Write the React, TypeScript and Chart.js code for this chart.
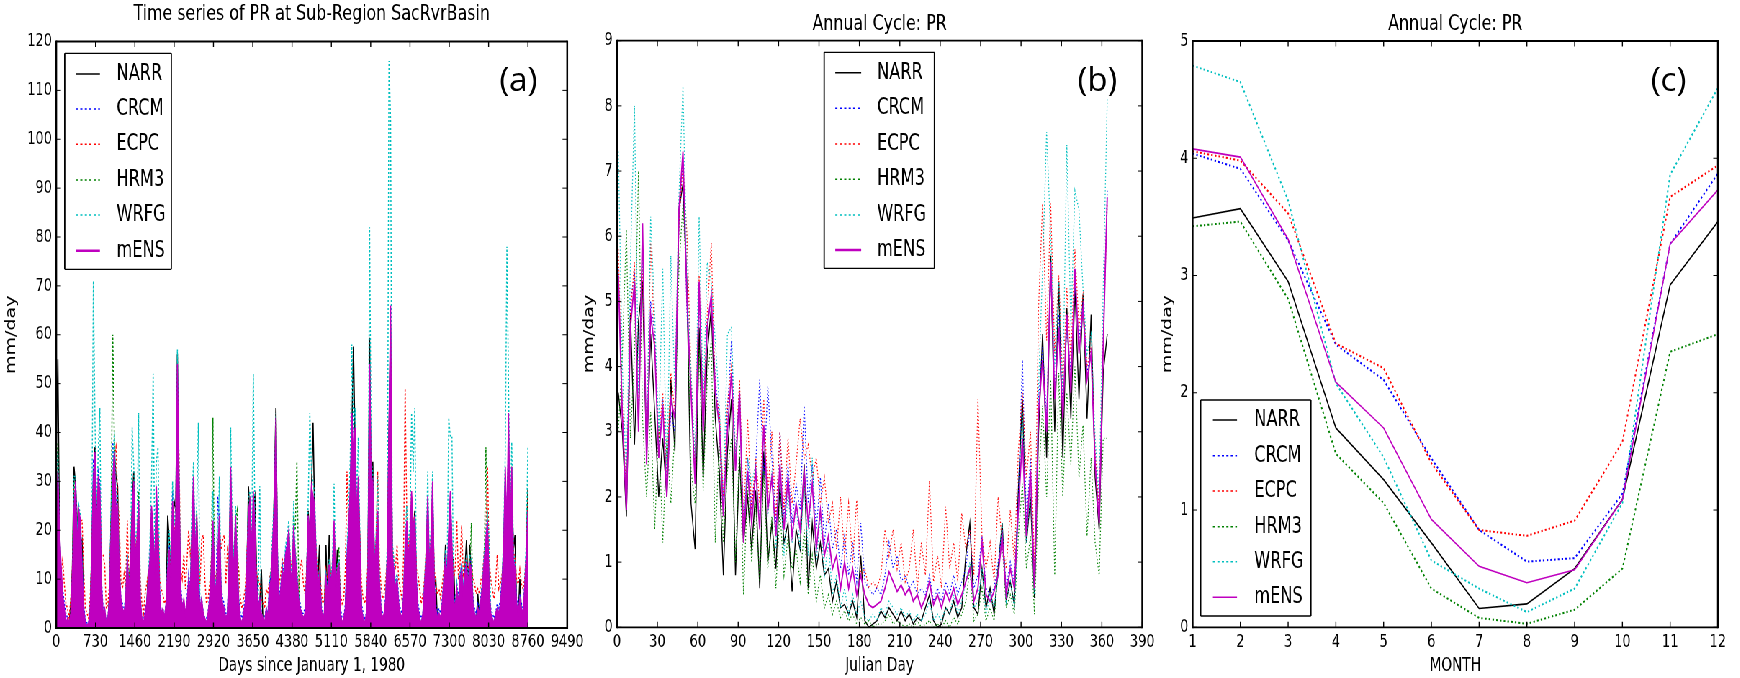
import React, { useEffect, useRef } from 'react';
import { Chart, registerables } from 'chart.js';

Chart.register(...registerables);

// The reference figure is horizontally compressed; we draw it wide and squeeze it.
const S = 0.72;
const FIG_W = 2417;
const FIG_H = 678;
const FAMILY = "'DejaVu Sans', 'Liberation Sans', sans-serif";
Chart.defaults.font.family = FAMILY;
Chart.defaults.color = '#000';

const seriesNames = ['NARR', 'CRCM', 'ECPC', 'HRM3', 'WRFG', 'mENS'];
const seriesColors = ['#000000', '#0000ff', '#ff0000', '#008000', '#00bfbf', '#bf00bf'];
const seriesDotted = [false, true, true, true, true, false];
const drawOrder = [5, 4, 3, 2, 1, 0];

// ---------------- Panel (a): daily time series, sampled every 30 days ----------------
const daysA = Array.from({ length: 293 }, (_, i) => i * 30);
const xTicksA = [0, 730, 1460, 2190, 2920, 3650, 4380, 5110, 5840, 6570, 7300, 8030, 8760, 9490];
const yTicksA = [0, 10, 20, 30, 40, 50, 60, 70, 80, 90, 100, 110, 120];

const narrA = [
  36, 55, 20, 10, 6, 3, 1, 1, 0.5, 5,
  12, 33, 29, 22, 18, 17, 18, 3, 1, 0.2,
  0.5, 2, 16, 30, 37, 24, 26, 22, 7, 2,
  3, 0.5, 1, 7, 22, 28, 36, 31, 29, 10,
  5, 3, 2, 4, 12, 9, 14, 25, 32, 11,
  16, 22, 2, 1, 1, 2, 4, 12, 8, 19,
  14, 9, 26, 18, 5, 2, 3, 1, 3, 23,
  18, 8, 22, 26, 24, 56, 27, 6, 2, 3,
  2, 4, 9, 6, 18, 28, 10, 22, 8, 2,
  4, 2, 1, 1, 2, 5, 10, 20, 8, 5,
  12, 20, 6, 3, 2, 1, 2, 10, 31, 14,
  10, 18, 11, 4, 1, 0.5, 2, 4, 10, 29,
  22, 13, 25, 27, 12, 3, 5, 12, 1, 0.5,
  3, 2, 6, 11, 15, 28, 45, 12, 4, 7,
  11, 9, 13, 16, 20, 10, 8, 19, 13, 9,
  5, 3, 2, 1, 2, 9, 24, 17, 28, 42,
  23, 12, 10, 17, 3, 1, 2, 17, 6, 19,
  8, 11, 18, 7, 16, 10, 2, 1, 1, 3,
  12, 19, 27, 40, 57.6, 38, 20, 29, 17, 3,
  1, 0.5, 2, 11, 59.4, 26, 34, 11, 15, 22,
  8, 3, 1, 2, 5, 14, 40, 62, 14, 10,
  7, 9, 4, 2, 1, 5, 15, 20, 12, 16,
  25, 19, 24, 8, 3, 1, 1, 2, 7, 12,
  25, 10, 16, 27, 8, 10, 1, 2, 1, 4,
  9, 17, 9, 18, 26, 14, 14, 3, 7, 4,
  9, 10, 6, 12, 18, 8, 17, 11, 4, 2,
  1, 7, 2, 5, 10, 12, 16, 20, 7, 2,
  1, 0.5, 2, 3, 2, 4, 8, 14, 30, 18,
  38, 16, 30, 16, 19, 4, 2, 10, 3, 2,
  7, 14, 28.5,
];
const crcmA = [
  25, 30, 14, 9, 8, 5, 3, 2, 1, 2,
  10, 26, 28, 17, 23, 20, 14, 5, 1.5, 1,
  1, 4, 14, 34, 33, 20, 32, 30, 10, 4,
  3, 2, 2, 6, 24, 38, 33, 26, 22, 13,
  6, 5, 3, 7, 15, 7, 13, 22, 28, 16,
  17, 24, 5, 2, 1, 4, 5, 9, 15, 24,
  18, 12, 27, 20, 8, 3, 4, 2, 5, 13,
  17, 10, 28, 17, 20, 50, 28, 9, 5, 5,
  3, 6, 11, 8, 22, 30, 15, 21, 12, 5,
  6, 3, 2, 2, 3, 7, 13, 21, 11, 8,
  27, 22, 9, 6, 5, 3, 3, 13, 30, 17,
  13, 21, 13, 6, 3, 2, 4, 6, 13, 23,
  24, 16, 26, 19, 10, 5, 6, 3, 2, 2,
  4, 3, 9, 11, 16, 24, 40, 15, 6, 9,
  13, 11, 16, 18, 19, 13, 10, 20, 15, 11,
  7, 5, 3, 3, 4, 11, 22, 20, 27, 25,
  24, 14, 9, 12, 5, 2, 3, 11, 8, 12,
  10, 13, 21, 9, 11, 12, 4, 2, 2, 5,
  15, 21, 26, 42, 33, 38, 21, 29, 15, 5,
  3, 2, 3, 13, 50, 27, 28, 13, 16, 23,
  11, 5, 3, 3, 7, 16, 38, 60, 16, 13,
  9, 11, 6, 4, 3, 7, 17, 21, 15, 17,
  26, 21, 22, 10, 5, 3, 2, 3, 9, 15,
  26, 13, 17, 28, 10, 5, 3, 4, 3, 6,
  11, 15, 11, 19, 27, 17, 7, 5, 9, 6,
  11, 13, 8, 12, 14, 10, 14, 13, 6, 4,
  3, 5, 4, 7, 10, 15, 17, 21, 9, 4,
  3, 2, 3, 5, 4, 6, 10, 17, 31, 19,
  40, 19, 31, 15, 13, 6, 4, 7, 5, 4,
  9, 16, 26,
];
const ecpcA = [
  24, 28, 15, 11, 14, 9, 5, 4, 2, 6,
  12, 28, 27, 15, 21, 22, 22, 12, 4, 3,
  2, 6, 15, 29, 31, 19, 28, 27, 15, 15,
  13, 4, 5, 9, 21, 30, 35, 37, 27, 22,
  10, 8, 11, 8, 22, 10, 12, 23, 26, 15,
  19, 25, 10, 5, 3, 7, 9, 11, 13, 22,
  17, 14, 25, 21, 10, 8, 7, 5, 6, 12,
  15, 11, 25, 19, 26, 39, 36, 12, 10, 15,
  8, 14, 20, 15, 18, 26, 16, 20, 14, 9,
  18, 19, 10, 5, 6, 9, 14, 19, 12, 10,
  14, 21, 16, 18, 19, 9, 16, 14, 29, 19,
  14, 20, 15, 12, 6, 4, 6, 8, 15, 22,
  23, 18, 24, 18, 11, 10, 9, 6, 5, 4,
  8, 7, 10, 12, 18, 23, 44, 14, 9, 11,
  14, 13, 14, 15, 18, 14, 12, 18, 16, 12,
  8, 12, 14, 9, 7, 12, 21, 18, 26, 24,
  22, 15, 10, 12, 8, 5, 6, 12, 10, 13,
  11, 12, 20, 10, 12, 13, 7, 5, 6, 12,
  32, 20, 27, 38, 32, 36, 23, 28, 18, 9,
  6, 5, 7, 14, 48, 29, 27, 14, 18, 32,
  14, 9, 6, 7, 10, 15, 39, 55, 17, 14,
  12, 17, 10, 8, 6, 14, 49, 23, 16, 19,
  27, 22, 21, 12, 11, 8, 5, 7, 10, 16,
  24, 14, 19, 26, 12, 9, 7, 8, 6, 9,
  12, 14, 12, 18, 25, 16, 10, 12, 22, 10,
  13, 21, 11, 13, 14, 12, 14, 13, 10, 9,
  7, 8, 7, 10, 11, 16, 19, 33, 14, 10,
  8, 6, 9, 15, 8, 9, 11, 16, 29, 21,
  36, 20, 29, 16, 14, 10, 9, 12, 9, 8,
  10, 15, 27,
];
const hrm3A = [
  30, 38, 15, 8, 5, 2, 1, 1, 0.5, 3,
  10, 30, 26, 19, 20, 18, 10, 2, 0.5, 0.2,
  0.5, 2, 13, 28, 32, 17, 27, 25, 6, 2,
  3, 0.5, 1, 5, 24, 60, 38, 22, 23, 14,
  4, 3, 2, 5, 13, 6, 11, 21, 27, 12,
  15, 28, 4, 1, 0.5, 2, 4, 8, 12, 23,
  16, 9, 24, 15, 5, 2, 2, 1, 3, 11,
  14, 8, 23, 16, 21, 48, 26, 6, 3, 4,
  2, 4, 9, 5, 21, 29, 12, 24, 8, 3,
  4, 2, 1, 0.5, 2, 5, 12, 43, 9, 6,
  13, 19, 6, 4, 3, 1, 2, 11, 28, 15,
  15, 22, 24, 4, 1, 0.5, 2, 4, 11, 21,
  25, 14, 23, 17, 8, 3, 5, 2, 1, 0.5,
  3, 1, 7, 9, 14, 22, 38, 11, 4, 7,
  11, 9, 14, 16, 19, 11, 8, 22, 20, 34,
  12, 3, 2, 1, 2, 9, 20, 16, 25, 24,
  21, 12, 7, 10, 3, 1, 2, 9, 6, 11,
  8, 11, 19, 7, 13, 16.5, 2, 0.5, 1, 3,
  13, 18, 25, 36, 31, 35, 19, 27, 13, 3,
  1, 0.5, 2, 11, 46, 24, 26, 10, 14, 21,
  8, 3, 1, 2, 5, 14, 36, 52, 13, 11,
  7, 8, 4, 2, 1, 5, 14, 19, 13, 15,
  24, 18, 20, 8, 3, 1, 0.5, 2, 7, 13,
  23, 11, 15, 25, 8, 3, 1, 2, 1, 4,
  9, 13, 9, 17, 24, 14, 5, 3, 7, 4,
  9, 11, 6, 10, 12, 8, 12, 21.5, 4, 2,
  1, 3, 2, 5, 8, 13, 37, 20, 7, 2,
  1, 0.5, 2, 3, 2, 4, 8, 15, 28, 17,
  35, 16, 33, 13, 11, 4, 2, 5, 3, 2,
  7, 14, 30,
];
const wrfgA = [
  30, 36, 20, 12, 6, 3, 1, 1, 0.5, 3,
  11, 31, 31, 20, 25, 23, 13, 4, 1, 0.5,
  1, 3, 18, 71, 42, 24, 36, 45, 8, 3,
  4, 1, 2, 6, 25, 35, 40, 28, 27, 13,
  5, 4, 3, 7, 15, 9, 14, 41, 33, 18,
  20, 44, 7, 2, 1, 3, 5, 10, 18, 30,
  52, 14, 34, 37, 8, 3, 4, 2, 5, 14,
  20, 10, 30, 21, 25, 57, 34, 8, 4, 5,
  3, 5, 10, 8, 26, 34, 18, 25, 42, 4,
  6, 3, 2, 1, 3, 6, 13, 28, 12, 7,
  16, 31, 9, 5, 4, 2, 3, 14, 41, 20,
  14, 25, 15, 5, 2, 1, 3, 5, 13, 27,
  28, 17, 52, 22, 10, 4, 29, 3, 2, 1,
  4, 2, 9, 12, 20, 27, 44, 15, 5, 8,
  13, 11, 17, 19, 22, 14, 10, 26, 16, 12,
  7, 4, 3, 2, 3, 11, 26, 44, 32, 30,
  27, 15, 9, 12, 4, 2, 3, 11, 8, 14,
  10, 14, 29.5, 9, 13, 14, 3, 1, 2, 4,
  16, 24, 34, 58, 40, 45, 26, 39, 18, 4,
  2, 1, 3, 14, 82, 34, 32, 14, 19, 31,
  11, 4, 2, 3, 6, 18, 116, 104, 18, 14,
  9, 11, 5, 3, 2, 6, 18, 25, 17, 21,
  44, 32, 45, 10, 4, 2, 1, 3, 9, 16,
  32, 14, 20, 32, 10, 4, 2, 3, 2, 5,
  11, 16, 12, 43, 39, 39, 7, 4, 9, 5,
  11, 13, 8, 12, 15, 10, 15, 14, 5, 3,
  2, 4, 3, 6, 10, 16, 20, 24, 18, 3,
  2, 1, 3, 4, 3, 5, 10, 19, 36, 78,
  50, 21, 38, 16, 13, 5, 3, 6, 4, 3,
  9, 18, 37,
];
const mensA = [
  22, 32, 20, 13, 7, 4, 1, 2, 1, 3,
  11, 24, 30, 16, 24, 22, 12, 4, 1, 0.5,
  1, 3, 15, 30, 36, 19, 31, 28, 9, 3,
  4, 1, 2, 6, 20, 30, 36, 24, 25, 12,
  6, 4, 3, 6, 14, 8, 12, 24, 30, 14,
  18, 26, 6, 2, 1, 3, 5, 10, 14, 25,
  20, 11, 29, 19, 7, 3, 4, 2, 5, 12,
  16, 9, 26, 18, 22, 54, 30, 8, 4, 6,
  3, 5, 10, 7, 20, 31, 14, 23, 10, 4,
  6, 3, 2, 1, 3, 6, 12, 22, 10, 7,
  15, 23, 8, 5, 4, 2, 3, 12, 33, 16,
  12, 23, 14, 5, 2, 1, 3, 5, 12, 24,
  26, 15, 28, 20, 9, 4, 6, 3, 2, 1,
  4, 2, 8, 10, 17, 25, 43, 13, 5, 8,
  12, 10, 15, 17, 20, 12, 9, 21, 14, 10,
  6, 4, 3, 2, 3, 10, 23, 19, 29, 27,
  25, 13, 8, 11, 4, 2, 3, 10, 7, 13,
  9, 12, 22, 8, 12, 13, 3, 1, 2, 4,
  14, 20, 28, 44, 35, 41, 22, 31, 16, 4,
  2, 1, 3, 12, 54, 28, 30, 12, 17, 24,
  10, 4, 2, 3, 6, 15, 41, 66, 15, 12,
  8, 10, 5, 3, 2, 6, 16, 22, 14, 18,
  28, 20, 23, 9, 4, 2, 1, 3, 8, 14,
  27, 12, 18, 30, 9, 4, 2, 3, 2, 5,
  10, 14, 10, 20, 28, 16, 6, 4, 8, 5,
  10, 12, 7, 11, 13, 9, 13, 12, 5, 3,
  2, 4, 3, 6, 9, 14, 18, 22, 8, 3,
  2, 1, 3, 4, 3, 5, 9, 16, 33, 20,
  44, 18, 33, 14, 12, 5, 3, 6, 4, 3,
  8, 15, 24,
];

// ---------------- Panel (b): daily annual cycle, every 3rd Julian day ----------------
const daysB = Array.from({ length: 122 }, (_, i) => 1 + i * 3);
const xTicksB = [0, 30, 60, 90, 120, 150, 180, 210, 240, 270, 300, 330, 360, 390];
const yTicksB = [0, 1, 2, 3, 4, 5, 6, 7, 8, 9];

const narrB = [
  3.6, 3.0, 1.7, 4.8, 2.8, 4.7, 5.3, 2.6, 4.5, 3.3,
  2.0, 2.9, 2.0, 3.8, 2.7, 6.4, 6.8, 5.2, 1.9, 1.2,
  4.6, 2.3, 4.2, 4.9, 3.2, 2.4, 0.8, 2.7, 3.5, 0.8,
  2.6, 1.3, 2.0, 1.2, 2.1, 0.6, 2.7, 1.0, 1.6, 0.9,
  2.2, 1.3, 1.6, 0.55, 1.5, 1.2, 2.5, 0.6, 1.6, 0.9,
  1.3, 0.8, 0.9, 0.4, 0.7, 0.3, 0.35, 0.2, 0.4, 0.15,
  1.1, 0.1, 0.0, 0.05, 0.1, 0.25, 0.15, 0.3, 0.2, 0.1,
  0.25, 0.1, 0.2, 0.05, 0.15, 0.1, 0.3, 0.5, 0.1, 0.0,
  0.05, 0.3, 0.2, 0.4, 0.15, 0.3, 1.1, 1.6, 0.3, 0.2,
  0.9, 0.3, 0.6, 0.2, 0.9, 1.6, 0.4, 0.7, 0.35, 2.1,
  3.5, 1.3, 2.0, 0.45, 3.0, 4.5, 2.6, 5.7, 3.0, 5.3,
  2.6, 4.9, 3.2, 5.2, 3.5, 5.1, 3.2, 4.8, 2.3, 1.5,
  3.9, 4.5,
];
const crcmB = [
  5.5, 3.3, 1.8, 5.0, 5.4, 3.1, 5.9, 2.6, 5.0, 4.5,
  2.7, 3.5, 2.1, 3.3, 3.0, 6.2, 7.2, 4.8, 3.7, 2.3,
  5.1, 3.1, 4.7, 5.0, 3.8, 3.2, 1.8, 3.3, 4.4, 2.5,
  3.7, 1.4, 2.6, 1.8, 2.5, 3.8, 2.3, 3.7, 2.6, 1.6,
  3.0, 1.7, 2.5, 1.6, 2.2, 1.8, 3.4, 1.9, 2.5, 1.5,
  2.3, 1.3, 1.9, 1.2, 1.5, 0.9, 1.4, 0.8, 1.3, 0.7,
  1.6, 0.7, 0.6, 0.5, 0.6, 0.5, 0.8, 1.3, 0.9, 1.1,
  0.7, 0.8, 0.6, 0.7, 0.5, 0.6, 0.5, 0.8, 0.4, 0.6,
  0.4, 0.7, 0.5, 0.8, 0.5, 0.7, 0.9, 1.5, 0.6, 0.8,
  1.4, 0.6, 0.5, 0.6, 1.0, 1.5, 0.6, 1.0, 0.7, 2.0,
  4.1, 1.6, 2.6, 0.7, 3.5, 4.3, 3.2, 5.5, 3.6, 4.8,
  3.4, 4.6, 3.9, 5.3, 4.4, 5.0, 3.9, 4.3, 2.6, 1.7,
  4.5, 6.7,
];
const ecpcB = [
  5.8, 3.4, 2.0, 4.8, 5.6, 3.2, 5.5, 2.8, 5.9, 4.4,
  2.9, 3.6, 2.3, 3.9, 3.3, 6.2, 7.1, 6.0, 3.9, 2.4,
  5.4, 3.2, 4.8, 5.9, 3.6, 3.3, 2.0, 3.4, 4.0, 2.6,
  3.8, 1.6, 3.2, 1.8, 2.6, 1.9, 3.5, 2.0, 3.0, 1.7,
  3.0, 1.8, 2.9, 1.9, 2.5, 3.2, 2.6, 2.8, 2.3, 2.6,
  1.9, 2.3, 1.6, 1.9, 1.2, 2.0, 1.1, 1.9, 1.0, 1.95,
  0.8, 0.9, 0.6, 0.7, 0.6, 0.8, 1.5, 1.1, 1.5, 0.9,
  1.3, 0.7, 0.9, 1.5, 0.6, 1.3, 0.8, 2.25, 0.7, 1.1,
  0.6, 1.85, 0.9, 1.3, 0.7, 1.75, 1.2, 1.5, 0.8, 3.5,
  1.4, 0.9, 1.3, 0.7, 2.0, 1.3, 0.9, 1.8, 1.0, 2.7,
  3.6, 2.3, 3.0, 0.9, 4.9, 6.5, 4.4, 6.5, 4.2, 5.4,
  3.7, 5.2, 4.1, 5.8, 4.6, 5.1, 4.0, 4.3, 2.7, 1.8,
  4.4, 6.5,
];
const hrm3B = [
  3.0, 4.2, 6.1, 2.9, 4.2, 7.0, 3.2, 2.0, 3.3, 1.5,
  3.1, 1.3, 2.9, 1.9, 3.0, 5.5, 6.5, 5.2, 2.4, 1.9,
  4.3, 2.1, 3.8, 4.4, 1.3, 2.9, 1.3, 2.4, 2.9, 1.0,
  2.8, 0.5, 2.2, 1.0, 1.9, 0.7, 2.4, 0.9, 1.7, 0.6,
  1.8, 0.8, 1.4, 0.9, 1.2, 0.7, 1.5, 0.5, 1.1, 0.4,
  0.8, 0.3, 0.5, 0.2, 0.4, 0.15, 0.25, 0.1, 0.2, 0.05,
  0.15, 0.05, 0.1, 0.0, 0.05, 0.05, 0.1, 0.2, 0.05, 0.1,
  0.05, 0.0, 0.05, 0.0, 0.1, 0.0, 0.05, 0.1, 0.0, 0.05,
  0.0, 0.1, 0.0, 0.15, 0.05, 0.2, 0.4, 0.9, 0.1, 0.2,
  0.6, 0.1, 0.3, 0.1, 0.9, 1.3, 0.3, 0.5, 0.2, 1.4,
  2.2, 0.9, 1.4, 0.2, 2.2, 3.4, 2.0, 3.8, 0.8, 3.9,
  2.0, 3.6, 2.5, 4.0, 2.3, 3.1, 1.4, 2.6, 1.3, 0.8,
  2.9, 2.9,
];
const wrfgB = [
  7.3, 4.0, 2.3, 5.6, 8.0, 3.6, 5.8, 2.7, 6.3, 4.8,
  3.0, 5.5, 2.2, 5.7, 3.6, 6.6, 8.3, 5.4, 3.9, 2.6,
  6.3, 3.4, 5.6, 5.3, 4.4, 3.4, 1.9, 4.5, 4.6, 2.6,
  3.6, 1.4, 2.6, 2.2, 2.5, 1.6, 3.0, 1.7, 2.4, 1.2,
  2.4, 1.1, 2.1, 1.3, 1.9, 1.2, 2.3, 1.1, 2.6, 1.0,
  1.7, 0.8, 1.3, 0.5, 0.8, 0.3, 0.6, 0.2, 0.5, 0.2,
  0.4, 0.15, 0.1, 0.2, 0.1, 0.3, 0.2, 0.4, 0.3, 0.2,
  0.3, 0.15, 0.25, 0.1, 0.2, 0.1, 0.2, 0.4, 0.1, 0.2,
  0.1, 0.3, 0.2, 0.5, 0.2, 0.4, 0.7, 1.0, 0.3, 0.4,
  0.9, 0.2, 0.5, 0.3, 0.8, 1.6, 0.4, 0.7, 0.3, 1.7,
  3.3, 1.3, 2.1, 0.5, 3.7, 5.5, 7.6, 6.0, 4.0, 5.3,
  3.6, 7.4, 4.6, 6.7, 6.4, 5.2, 4.2, 4.5, 2.9, 2.0,
  5.2, 8.1,
];
const mensB = [
  5.4, 3.2, 1.8, 4.6, 5.3, 3.0, 6.2, 2.5, 4.8, 4.3,
  2.6, 3.4, 2.0, 3.5, 3.2, 6.4, 7.3, 5.0, 3.6, 2.2,
  5.3, 3.0, 4.6, 5.1, 3.6, 3.1, 1.7, 3.0, 3.9, 2.4,
  3.6, 1.3, 2.4, 1.6, 2.4, 1.5, 3.1, 1.8, 2.3, 1.4,
  2.5, 1.5, 2.3, 1.4, 1.9, 1.5, 2.4, 1.6, 2.2, 1.2,
  1.8, 1.1, 1.4, 0.9, 1.1, 0.6, 1.0, 0.6, 0.9, 0.5,
  0.8, 0.5, 0.35, 0.3, 0.35, 0.4, 0.6, 0.85, 0.7, 0.55,
  0.65, 0.5, 0.6, 0.4, 0.5, 0.3, 0.45, 0.7, 0.35, 0.5,
  0.3, 0.55, 0.4, 0.6, 0.35, 0.5, 0.7, 0.9, 0.4, 0.6,
  1.3, 0.5, 0.4, 0.55, 0.8, 1.4, 0.5, 0.9, 0.6, 1.8,
  2.9, 1.4, 2.4, 0.6, 3.3, 4.1, 3.0, 5.6, 3.5, 4.6,
  3.2, 4.8, 3.6, 5.5, 4.2, 4.9, 3.8, 4.2, 2.5, 1.6,
  4.3, 6.6,
];

// ---------------- Panel (c): monthly annual cycle ----------------
const months = [1, 2, 3, 4, 5, 6, 7, 8, 9, 10, 11, 12];
const xTicksC = [1, 2, 3, 4, 5, 6, 7, 8, 9, 10, 11, 12];
const yTicksC = [0, 1, 2, 3, 4, 5];
const narrC = [3.49, 3.57, 2.95, 1.70, 1.26, 0.72, 0.16, 0.20, 0.50, 1.09, 2.92, 3.46];
const crcmC = [4.04, 3.91, 3.30, 2.41, 2.11, 1.44, 0.83, 0.56, 0.59, 1.14, 3.27, 3.87];
const ecpcC = [4.06, 3.98, 3.53, 2.42, 2.21, 1.40, 0.83, 0.78, 0.91, 1.58, 3.67, 3.94];
const hrm3C = [3.42, 3.46, 2.80, 1.48, 1.06, 0.33, 0.08, 0.03, 0.15, 0.50, 2.35, 2.50];
const wrfgC = [4.79, 4.65, 3.64, 2.08, 1.45, 0.57, 0.33, 0.13, 0.33, 1.06, 3.86, 4.60];
const mensC = [4.08, 4.01, 3.31, 2.09, 1.70, 0.92, 0.52, 0.38, 0.49, 1.09, 3.27, 3.73];

// ---------------- Decorations: frame, inward ticks, legend, panel tag ----------------
const decorPlugin = {
  id: 'decor',
  afterDraw(chart: any, _args: any, o: any) {
    const { ctx, chartArea: a, scales } = chart;
    const xs = scales.x;
    const ys = scales.y;
    ctx.save();
    ctx.setLineDash([]);
    ctx.strokeStyle = '#000';
    ctx.lineWidth = 1 / S;
    ctx.beginPath();
    for (const t of xs.ticks) {
      const px = xs.getPixelForValue(t.value);
      ctx.moveTo(px, a.bottom);
      ctx.lineTo(px, a.bottom - 5.5);
      ctx.moveTo(px, a.top);
      ctx.lineTo(px, a.top + 5.5);
    }
    ctx.stroke();
    ctx.lineWidth = 1;
    ctx.beginPath();
    for (const t of ys.ticks) {
      const py = ys.getPixelForValue(t.value);
      ctx.moveTo(a.left, py);
      ctx.lineTo(a.left + 6.5, py);
      ctx.moveTo(a.right, py);
      ctx.lineTo(a.right - 6.5, py);
    }
    ctx.stroke();
    // axes frame
    ctx.lineWidth = 1.8;
    ctx.beginPath();
    ctx.moveTo(a.left, a.top); ctx.lineTo(a.right, a.top);
    ctx.moveTo(a.left, a.bottom); ctx.lineTo(a.right, a.bottom);
    ctx.stroke();
    ctx.lineWidth = 1.8 / S;
    ctx.beginPath();
    ctx.moveTo(a.left, a.top - 0.9); ctx.lineTo(a.left, a.bottom + 0.9);
    ctx.moveTo(a.right, a.top - 0.9); ctx.lineTo(a.right, a.bottom + 0.9);
    ctx.stroke();

    // legend box
    const L = o.legend;
    ctx.fillStyle = '#fff';
    ctx.fillRect(L.x0, L.y0, L.x1 - L.x0, L.y1 - L.y0);
    ctx.strokeStyle = '#000';
    ctx.lineWidth = 1.3;
    ctx.beginPath();
    ctx.moveTo(L.x0, L.y0); ctx.lineTo(L.x1, L.y0);
    ctx.moveTo(L.x0, L.y1); ctx.lineTo(L.x1, L.y1);
    ctx.stroke();
    ctx.lineWidth = 1.3 / S;
    ctx.beginPath();
    ctx.moveTo(L.x0, L.y0); ctx.lineTo(L.x0, L.y1);
    ctx.moveTo(L.x1, L.y0); ctx.lineTo(L.x1, L.y1);
    ctx.stroke();
    chart.data.datasets.forEach((ds: any, i: number) => {
      const y = L.rows[i];
      ctx.strokeStyle = ds.borderColor;
      ctx.lineWidth = L.widths[i];
      ctx.setLineDash(seriesDotted[i] ? [3, 3.2] : []);
      ctx.beginPath();
      ctx.moveTo(L.lx0, y);
      ctx.lineTo(L.lx1, y);
      ctx.stroke();
      ctx.setLineDash([]);
      ctx.fillStyle = '#000';
      ctx.font = `22.5px ${FAMILY}`;
      ctx.textAlign = 'left';
      ctx.textBaseline = 'middle';
      ctx.fillText(ds.label, L.tx, y);
    });

    // panel tag, drawn without the horizontal squeeze
    ctx.translate(o.tag.x, o.tag.y);
    ctx.scale(1 / S, 1);
    ctx.font = `33px 'Open Sans', ${FAMILY}`;
    ctx.fillStyle = '#000';
    ctx.textAlign = 'center';
    ctx.textBaseline = 'alphabetic';
    ctx.fillText(o.tag.text, 0, 0);
    ctx.restore();
  },
};

const panels = [
  {
    left: 0, width: 830,
    area: { left: 78.1, right: 787.8, top: 41.5, bottom: 628 },
    title: 'Time series of PR at Sub-Region SacRvrBasin',
    titlePad: { top: 1.5, bottom: 13.6 },
    xTitle: 'Days since January 1, 1980', yTitle: 'mm/day', yTitlePad: 5,
    xMin: 0, xMax: 9490, yMin: 0, yMax: 120,
    xTicks: xTicksA, yTicks: yTicksA,
    x: daysA, series: [narrA, crcmA, ecpcA, hrm3A, wrfgA, mensA],
    widths: [1.6, 1.5, 1.5, 1.5, 1.5, 1.6], dash: [2, 2], fillEns: true,
    legend: { x0: 89.9, x1: 237.9, y0: 53.3, y1: 269.3, lx0: 105.3, lx1: 138.8, tx: 161.8,
      rows: [74, 109, 144.3, 180, 215, 250.7], widths: [1.6, 1.6, 1.6, 1.6, 1.6, 2.4] },
    tag: { text: '(a)', x: 719.9, y: 91 },
  },
  {
    left: 800, width: 830,
    area: { left: 56.9, right: 786.5, top: 40.7, bottom: 627.3 },
    title: 'Annual Cycle: PR',
    titlePad: { top: 11.3, bottom: 3.0 },
    xTitle: 'Julian Day', yTitle: 'mm/day', yTitlePad: 8,
    xMin: 0, xMax: 390, yMin: 0, yMax: 9,
    xTicks: xTicksB, yTicks: yTicksB,
    x: daysB, series: [narrB, crcmB, ecpcB, hrm3B, wrfgB, mensB],
    widths: [1.4, 1.3, 1.3, 1.3, 1.3, 1.8], dash: [1.3, 2.2], fillEns: false,
    legend: { x0: 344.7, x1: 497.8, y0: 52.3, y1: 268.3, lx0: 360.1, lx1: 396.1, tx: 418.2,
      rows: [72.7, 108.3, 144, 179.3, 215, 250], widths: [1.6, 1.6, 1.6, 1.6, 1.6, 2.4] },
    tag: { text: '(b)', x: 724.2, y: 91 },
  },
  {
    left: 1580, width: 837,
    area: { left: 76.4, right: 806, top: 41, bottom: 627.3 },
    title: 'Annual Cycle: PR',
    titlePad: { top: 11.3, bottom: 3.3 },
    xTitle: 'MONTH', yTitle: 'mm/day', yTitlePad: 30.8,
    xMin: 1, xMax: 12, yMin: 0, yMax: 5,
    xTicks: xTicksC, yTicks: yTicksC,
    x: months, series: [narrC, crcmC, ecpcC, hrm3C, wrfgC, mensC],
    widths: [1.6, 2, 2, 2, 2, 1.6], dash: [2.2, 3], fillEns: false,
    legend: { x0: 87.6, x1: 240.7, y0: 400, y1: 616, lx0: 104.6, lx1: 138.1, tx: 162.1,
      rows: [420, 455.7, 491, 526.7, 561.7, 597.3], widths: [1.6, 1.6, 1.6, 1.6, 1.6, 1.6] },
    tag: { text: '(c)', x: 737.6, y: 91 },
  },
];

function buildConfig(p: any): any {
  const datasets = seriesNames.map((name, k) => ({
    label: name,
    data: p.series[k].map((v: number, i: number) => ({ x: p.x[i], y: v })),
    borderColor: seriesColors[k],
    backgroundColor: seriesColors[k],
    borderWidth: p.widths[k],
    borderDash: seriesDotted[k] ? p.dash : [],
    pointRadius: 0,
    pointHoverRadius: 0,
    tension: 0,
    fill: p.fillEns && k === 5 ? 'origin' : false,
    order: drawOrder[k],
  }));
  const tickFont = { family: FAMILY, size: 18 };
  const titleFont = { family: FAMILY, size: 19 };
  return {
    type: 'line',
    data: { datasets },
    plugins: [decorPlugin],
    options: {
      responsive: false,
      animation: false,
      events: [],
      layout: { padding: { left: 0, right: p.width - p.area.right, top: 0, bottom: 0 }, autoPadding: false },
      plugins: {
        legend: { display: false },
        tooltip: { enabled: false },
        title: {
          display: true, text: p.title, color: '#000', fullSize: false,
          font: { family: FAMILY, size: 22, weight: 'normal' }, padding: p.titlePad,
        },
        decor: { legend: p.legend, tag: p.tag },
      },
      scales: {
        x: {
          type: 'linear', min: p.xMin, max: p.xMax,
          afterBuildTicks: (s: any) => { s.ticks = p.xTicks.map((v: number) => ({ value: v })); },
          afterFit: (s: any) => { s.height = FIG_H - p.area.bottom; },
          ticks: { autoSkip: false, maxRotation: 0, minRotation: 0, padding: 4, color: '#000', font: tickFont,
            callback: (v: any) => String(v) },
          grid: { display: false, drawTicks: false },
          border: { display: false },
          title: { display: true, text: p.xTitle, color: '#000', font: titleFont, padding: { top: 0, bottom: 1 } },
        },
        y: {
          type: 'linear', min: p.yMin, max: p.yMax,
          afterBuildTicks: (s: any) => { s.ticks = p.yTicks.map((v: number) => ({ value: v })); },
          afterFit: (s: any) => { s.width = p.area.left; },
          ticks: { autoSkip: false, padding: 6, color: '#000', font: tickFont, callback: (v: any) => String(v) },
          grid: { display: false, drawTicks: false },
          border: { display: false },
          title: { display: true, text: p.yTitle, color: '#000', font: titleFont, padding: { top: p.yTitlePad, bottom: 0 } },
        },
      },
    },
  };
}

export default function App() {
  const r0 = useRef<HTMLCanvasElement>(null);
  const r1 = useRef<HTMLCanvasElement>(null);
  const r2 = useRef<HTMLCanvasElement>(null);
  const refs = [r0, r1, r2];

  useEffect(() => {
    const charts = panels.map((p, i) => new Chart(refs[i].current as HTMLCanvasElement, buildConfig(p)));
    return () => charts.forEach((c) => c.destroy());
  }, []);

  return (
    <div style={{ position: 'absolute', left: 0, top: 0, width: 1740, height: FIG_H, overflow: 'hidden', background: '#fff' }}>
      <div style={{ position: 'absolute', left: 0, top: 0, width: FIG_W, height: FIG_H, transform: `scaleX(${S})`, transformOrigin: '0 0' }}>
        {panels.map((p, i) => (
          <canvas key={i} ref={refs[i]} width={p.width} height={FIG_H}
            style={{ position: 'absolute', left: p.left, top: 0 }} />
        ))}
      </div>
    </div>
  );
}
